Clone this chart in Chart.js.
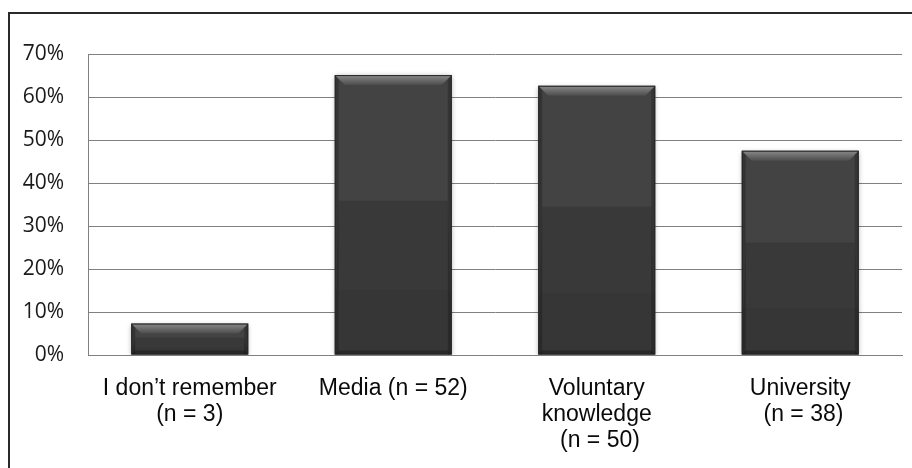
<!DOCTYPE html>
<html>
<head>
<meta charset="utf-8">
<script src="https://cdn.jsdelivr.net/npm/chart.js@4"></script>
<style>
    html, body { margin: 0; padding: 0; background: #fff; overflow: hidden; }
    .frame {
        position: absolute; left: 8px; top: 12px;
        width: 1000px; height: 1000px;
        border-top: 2px solid #2a2a2a; border-left: 2px solid #2a2a2a;
    }
    #wrap { position: absolute; left: 0; top: 0; width: 912px; height: 468px; }
</style>
</head>
<body>
<div class="frame"></div>
<div id="wrap"><canvas id="surveyChart" width="912" height="468"></canvas></div>
<script>
// Source of knowledge, share of respondents (%)
const categories = [
    ["I don\u2019t remember", "(n = 3)"],
    ["Media (n = 52)"],
    ["Voluntary", "knowledge", " (n = 50)"],
    ["University", " (n = 38)"]
];
const shares = [7.3, 65.1, 62.6, 47.5];
const yTicks = [0, 10, 20, 30, 40, 50, 60, 70];

// Excel-style bevel on top of the plain bars
const bevelPlugin = {
    id: 'bevel',
    beforeDatasetsDraw(chart) {
        const ctx = chart.ctx;
        ctx.save();
        ctx.shadowColor = 'rgba(0,0,0,0.35)';
        ctx.shadowBlur = 5;
        ctx.shadowOffsetY = 1;
    },
    afterDatasetsDraw(chart) {
        const ctx = chart.ctx;
        ctx.restore();
        chart.getDatasetMeta(0).data.forEach(bar => {
            const x0 = bar.x - bar.width / 2, x1 = bar.x + bar.width / 2;
            const top = bar.y, bottom = bar.base, h = bottom - top;
            const b = Math.min(10, h / 3);
            ctx.save();
            // darker lower parts
            ctx.fillStyle = 'rgba(0,0,0,0.14)';
            ctx.beginPath();
            ctx.moveTo(x0 + 4, top + h * 0.45);
            ctx.lineTo(x1 - 4, top + h * 0.45);
            ctx.lineTo(x1, bottom);
            ctx.lineTo(x0, bottom);
            ctx.closePath();
            ctx.fill();
            ctx.fillStyle = 'rgba(0,0,0,0.05)';
            ctx.fillRect(x0, top + h * 0.77, x1 - x0, h * 0.23);
            // side shading
            ctx.fillStyle = 'rgba(0,0,0,0.22)';
            ctx.fillRect(x0, top, 4, h);
            ctx.fillRect(x1 - 4, top, 4, h);
            // bottom bevel
            ctx.fillStyle = 'rgba(0,0,0,0.25)';
            ctx.beginPath();
            ctx.moveTo(x0, bottom);
            ctx.lineTo(x1, bottom);
            ctx.lineTo(x1 - 4, bottom - 4);
            ctx.lineTo(x0 + 4, bottom - 4);
            ctx.closePath();
            ctx.fill();
            // top bevel
            const g = ctx.createLinearGradient(0, top, 0, top + b);
            g.addColorStop(0, '#8a8a8a');
            g.addColorStop(1, '#4c4c4c');
            ctx.fillStyle = g;
            ctx.beginPath();
            ctx.moveTo(x0, top);
            ctx.lineTo(x1, top);
            ctx.lineTo(x1 - b, top + b);
            ctx.lineTo(x0 + b, top + b);
            ctx.closePath();
            ctx.fill();
            // outline
            ctx.strokeStyle = '#262626';
            ctx.lineWidth = 1;
            ctx.strokeRect(x0 + 0.5, top + 0.5, x1 - x0 - 1, h - 1);
            ctx.restore();
        });
    }
};

const ctx = document.getElementById('surveyChart').getContext('2d');
const myChart = new Chart(ctx, {
    type: 'bar',
    data: {
        labels: categories,
        datasets: [{
            data: shares,
            backgroundColor: '#434343',
            borderWidth: 0,
            categoryPercentage: 1,
            barPercentage: 0.575
        }]
    },
    options: {
        responsive: false,
        animation: false,
        layout: { padding: { top: 54, right: 10, left: 0, bottom: 0 } },
        plugins: { legend: { display: false }, tooltip: { enabled: false } },
        scales: {
            x: {
                grid: { display: false, drawTicks: false },
                border: { display: true, color: '#808080', width: 1 },
                ticks: {
                    padding: 21,
                    maxRotation: 0,
                    autoSkip: false,
                    color: '#0a0a0a',
                    font: { family: 'Liberation Sans', size: 23, lineHeight: 1.13 }
                },
                afterFit: scale => { scale.height = 113; }
            },
            y: {
                min: 0,
                max: 70,
                afterBuildTicks: scale => { scale.ticks = yTicks.map(v => ({ value: v })); },
                grid: { color: '#808080', lineWidth: 1, drawTicks: false },
                border: { display: true, color: '#808080', width: 1 },
                ticks: {
                    padding: 24,
                    color: '#1a1a1a',
                    font: { family: 'Open Sans', size: 21 },
                    callback: v => v + '%'
                },
                afterFit: scale => { scale.width = 88; }
            }
        }
    },
    plugins: [bevelPlugin]
});
</script>
</body>
</html>
